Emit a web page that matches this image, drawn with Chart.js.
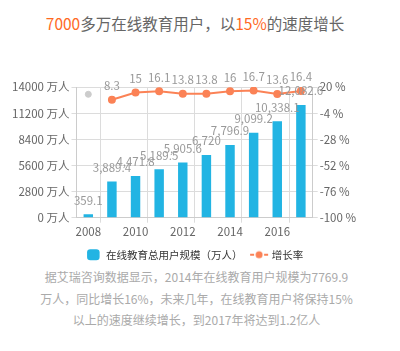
<!DOCTYPE html>
<html>
<head>
<meta charset="utf-8">
<script src="https://cdn.jsdelivr.net/npm/chart.js@4"></script>
<style>
  body { margin: 0; background: #fff; font-family: "Noto Sans CJK SC", sans-serif; }
  #wrap { position: relative; width: 400px; height: 351px; overflow: hidden; }
  #title { position: absolute; left: 0; top: 11px; width: 390px; text-align: center; font-size: 15.5px; color: #666; line-height: 24px; }
  #title .hi { color: #ff6a1f; }
  #box { position: absolute; left: 0; top: 40px; width: 400px; height: 230px; }
  #note { position: absolute; left: 0; top: 266px; width: 393px; text-align: center; font-size: 12px; color: #aaa; line-height: 21.5px; }
</style>
</head>
<body>
<div id="wrap">
  <div id="title"><span class="hi">7000</span>多万在线教育用户，以<span class="hi">15%</span>的速度增长</div>
  <div id="note">据艾瑞咨询数据显示，2014年在线教育用户规模为7769.9<br>万人，同比增长16%，未来几年，在线教育用户将保持15%<br>以上的速度继续增长，到2017年将达到1.2亿人</div>
  <div id="box"><canvas id="chart"></canvas></div>
</div>
<script>
const years = ['2008', '2009', '2010', '2011', '2012', '2013', '2014', '2015', '2016', '2017'];
const users = [359.1, 3889.4, 4471.8, 5189.5, 5905.6, 6720, 7796.9, 9099.2, 10338.1, 12082.6];
const growth = [null, 8.3, 15, 16.1, 13.8, 13.8, 16, 16.7, 13.6, 16.4];
const emptyPoint = [13.3, null, null, null, null, null, null, null, null, null];
const leftTicks = [0, 2800, 5600, 8400, 11200, 14000];
const rightTicks = [-100, -76, -52, -28, -4, 20];

const blue = '#22b4e3';
const orange = '#fb8256';
const gridColor = '#dcdcdc';

// small "-●-" marker for the line legend item
const lineMarker = document.createElement('canvas');
lineMarker.width = 20;
lineMarker.height = 10;
(function () {
    const c = lineMarker.getContext('2d');
    c.fillStyle = orange;
    c.fillRect(1, 4, 4, 2);
    c.fillRect(15, 4, 4, 2);
    c.beginPath();
    c.arc(10, 5, 3.5, 0, Math.PI * 2);
    c.fill();
})();

// value labels above bars and points
const valueLabels = {
    id: 'valueLabels',
    afterDatasetsDraw(chart) {
        const ctx = chart.ctx;
        ctx.save();
        ctx.font = '11.5px "Noto Sans CJK SC", sans-serif';
        ctx.fillStyle = '#999';
        ctx.textAlign = 'center';
        ctx.textBaseline = 'middle';
        chart.data.datasets.forEach((ds, i) => {
            if (ds.noLabels) return;
            const meta = chart.getDatasetMeta(i);
            meta.data.forEach((el, j) => {
                const v = ds.data[j];
                if (v == null) return;
                const txt = ds.type === 'bar' ? v.toLocaleString('en-US') : String(v);
                ctx.fillText(txt, el.x, el.y - 14);
            });
        });
        ctx.restore();
    }
};

// centre the legend under the plot rather than the whole canvas
const legendShift = {
    id: 'legendShift',
    afterLayout(chart) {
        const area = chart.chartArea;
        const lg = chart.legend;
        const d = (area.left + area.right) / 2 - (lg.left + lg.right) / 2;
        lg.left += d;
        lg.right += d;
    }
};

const ctx = document.getElementById('chart').getContext('2d');
new Chart(ctx, {
    data: {
        labels: years,
        datasets: [
            {
                type: 'line',
                label: '增长率',
                data: growth,
                yAxisID: 'y1',
                borderColor: orange,
                backgroundColor: orange,
                borderWidth: 2,
                pointRadius: 3,
                pointHoverRadius: 3,
                spanGaps: false,
                order: 0
            },
            {
                type: 'line',
                label: 'empty',
                data: emptyPoint,
                yAxisID: 'y1',
                borderColor: '#ccc',
                backgroundColor: '#ccc',
                pointRadius: 3,
                showLine: false,
                noLabels: true,
                order: 1
            },
            {
                type: 'bar',
                label: '在线教育总用户规模（万人）',
                data: users,
                yAxisID: 'y',
                backgroundColor: blue,
                barPercentage: 0.4,
                categoryPercentage: 1,
                order: 2
            }
        ]
    },
    options: {
        responsive: true,
        maintainAspectRatio: false,
        animation: false,
        layout: { padding: { left: 10, right: 42, top: 47, bottom: 0 } },
        scales: {
            x: {
                offset: true,
                grid: {
                    offset: true,
                    color: c => (c.index % 2 === 1 ? gridColor : 'rgba(0,0,0,0)'),
                    tickLength: 5
                },
                border: { color: '#ccc' },
                ticks: {
                    autoSkip: false,
                    maxRotation: 0,
                    color: '#666',
                    font: { size: 11.5, family: '"Noto Sans CJK SC", sans-serif' },
                    padding: 2,
                    callback: (v, i) => (i % 2 === 0 ? years[i] : '')
                }
            },
            y: {
                position: 'left',
                min: 0,
                max: 14000,
                afterBuildTicks: axis => { axis.ticks = leftTicks.map(v => ({ value: v })); },
                grid: { color: gridColor, tickLength: 5 },
                border: { color: '#ccc' },
                ticks: {
                    color: '#666',
                    font: { size: 11.5, family: '"Noto Sans CJK SC", sans-serif' },
                    padding: 2,
                    callback: v => v + ' 万人'
                }
            },
            y1: {
                position: 'right',
                min: -100,
                max: 20,
                afterBuildTicks: axis => { axis.ticks = rightTicks.map(v => ({ value: v })); },
                grid: { drawOnChartArea: false, color: gridColor, tickLength: 5 },
                border: { color: '#ccc' },
                ticks: {
                    color: '#666',
                    font: { size: 11.5, family: '"Noto Sans CJK SC", sans-serif' },
                    padding: 2,
                    callback: v => v + ' %'
                }
            }
        },
        plugins: {
            title: { display: false },
            tooltip: { enabled: false },
            legend: {
                position: 'bottom',
                reverse: true,
                labels: {
                    color: '#333',
                    font: { size: 10.5, family: '"Noto Sans CJK SC", sans-serif' },
                    usePointStyle: true,
                    boxHeight: 9,
                    padding: 9,
                    filter: item => item.text !== 'empty',
                    generateLabels: chart => {
                        const items = Chart.defaults.plugins.legend.labels.generateLabels(chart);
                        items.forEach(it => {
                            if (it.text === '增长率') {
                                it.pointStyle = lineMarker;
                            } else {
                                it.pointStyle = 'rectRounded';
                            }
                        });
                        return items;
                    },
                    pointStyleWidth: 15
                }
            }
        }
    },
    plugins: [valueLabels, legendShift]
});
</script>
</body>
</html>
